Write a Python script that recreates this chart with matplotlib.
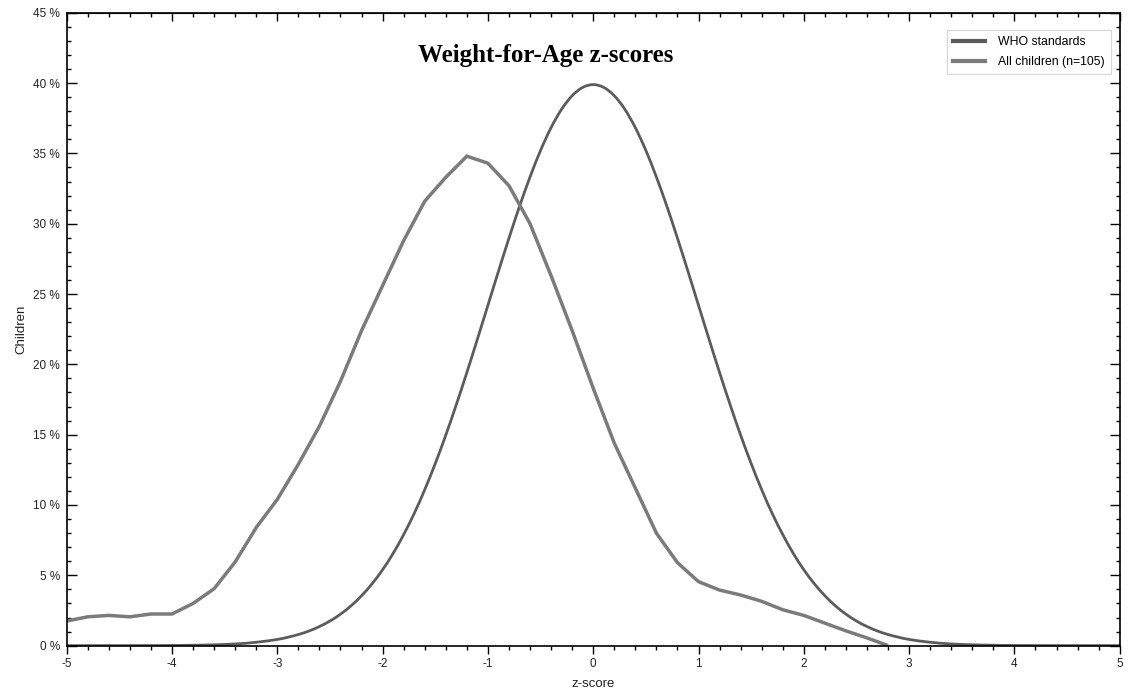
import matplotlib
matplotlib.use("Agg")
import matplotlib.pyplot as plt
from matplotlib.ticker import MultipleLocator, FuncFormatter
from matplotlib.path import Path
from matplotlib.patches import PathPatch
from matplotlib.lines import Line2D

# ---- data ----
who_z = [-5.0, -4.5, -4.0, -3.8, -3.6, -3.4, -3.2, -3.0, -2.9, -2.8, -2.7, -2.6, -2.5, -2.4,
         -2.3, -2.2, -2.1, -2.0, -1.9, -1.8, -1.7, -1.6, -1.5, -1.4, -1.3, -1.2, -1.1,
         -1.0, -0.9, -0.8, -0.7, -0.6, -0.5, -0.4, -0.3, -0.2, -0.1, 0.0,
         0.1, 0.2, 0.3, 0.4, 0.5, 0.6, 0.7, 0.8, 0.9, 1.0, 1.1, 1.2, 1.3, 1.4, 1.5,
         1.6, 1.7, 1.8, 1.9, 2.0, 2.1, 2.2, 2.3, 2.4, 2.5, 2.6, 2.7, 2.8, 2.9, 3.0,
         3.2, 3.4, 3.6, 3.8, 4.0, 4.5, 5.0]
who_pct = [0.00, 0.00, 0.01, 0.03, 0.06, 0.12, 0.24, 0.44, 0.60, 0.79, 1.04, 1.36, 1.75, 2.24,
           2.83, 3.55, 4.40, 5.40, 6.56, 7.90, 9.40, 11.09, 12.95, 14.97, 17.14, 19.42, 21.79,
           24.20, 26.61, 28.97, 31.23, 33.32, 35.21, 36.83, 38.14, 39.10, 39.69, 39.89,
           39.69, 39.10, 38.14, 36.83, 35.21, 33.32, 31.23, 28.97, 26.61, 24.20, 21.79, 19.42, 17.14, 14.97, 12.95,
           11.09, 9.40, 7.90, 6.56, 5.40, 4.40, 3.55, 2.83, 2.24, 1.75, 1.36, 1.04, 0.79, 0.60, 0.44,
           0.24, 0.12, 0.06, 0.03, 0.01, 0.00, 0.00]

child_z = [-5.0, -4.8, -4.6, -4.4, -4.2, -4.0, -3.8, -3.6, -3.4, -3.2, -3.0, -2.8, -2.6, -2.4,
           -2.2, -2.0, -1.8, -1.6, -1.4, -1.2, -1.0, -0.8, -0.6, -0.4, -0.2, 0.0, 0.2, 0.4,
           0.6, 0.8, 1.0, 1.2, 1.4, 1.6, 1.8, 2.0, 2.2, 2.4, 2.6, 2.8]
child_pct = [1.75, 2.05, 2.15, 2.05, 2.25, 2.25, 3.0, 4.05, 5.95, 8.4, 10.4, 12.9, 15.6, 18.8,
             22.4, 25.6, 28.8, 31.6, 33.3, 34.8, 34.3, 32.7, 30.0, 26.3, 22.4, 18.3, 14.4, 11.2,
             8.0, 5.9, 4.55, 3.95, 3.6, 3.15, 2.55, 2.15, 1.6, 1.05, 0.55, 0.0]

series_labels = ["WHO standards", "All children (n=105)"]
title = "Weight-for-Age z-scores"

WHO_COLOR = "#5c5c5c"
CHILD_COLOR = "#7b7b7b"

# ---- figure ----
fig = plt.figure(figsize=(11.31, 6.92), dpi=100)
ax = fig.add_axes([0.059, 0.067, 0.931, 0.9146])


def smooth_path(xs, ys):
    """Catmull-Rom curve through the data points, as cubic Bezier segments."""
    n = len(xs)
    verts = [(xs[0], ys[0])]
    codes = [Path.MOVETO]
    for i in range(n - 1):
        x0, y0 = (xs[i - 1], ys[i - 1]) if i > 0 else (xs[i], ys[i])
        x1, y1 = xs[i], ys[i]
        x2, y2 = xs[i + 1], ys[i + 1]
        x3, y3 = (xs[i + 2], ys[i + 2]) if i + 2 < n else (x2, y2)
        c1 = (x1 + (x2 - x0) / 6.0, y1 + (y2 - y0) / 6.0)
        c2 = (x2 - (x3 - x1) / 6.0, y2 - (y3 - y1) / 6.0)
        verts += [c1, c2, (x2, y2)]
        codes += [Path.CURVE4] * 3
    return Path(verts, codes)


ax.add_patch(PathPatch(smooth_path(who_z, who_pct), facecolor="none",
                       edgecolor=WHO_COLOR, lw=2.0, capstyle="butt", joinstyle="round"))
ax.plot(child_z, child_pct, color=CHILD_COLOR, lw=2.5, solid_capstyle="butt",
        solid_joinstyle="miter")

ax.set_xlim(-5, 5)
ax.set_ylim(0, 45)
ax.xaxis.set_major_locator(MultipleLocator(1))
ax.xaxis.set_minor_locator(MultipleLocator(0.2))
ax.yaxis.set_major_locator(MultipleLocator(5))
ax.yaxis.set_minor_locator(MultipleLocator(1))
ax.yaxis.set_major_formatter(FuncFormatter(lambda v, p: f"{v:.0f} %"))
ax.xaxis.set_major_formatter(FuncFormatter(lambda v, p: f"{v:.0f}"))

ax.tick_params(axis="x", which="both", direction="out", bottom=True, top=False,
               labelsize=8.5, pad=3, colors="black")
ax.tick_params(axis="x", which="major", length=6, width=1)
ax.tick_params(axis="x", which="minor", length=3, width=1)
ax.tick_params(axis="y", which="both", direction="in", left=True, right=True,
               labelsize=8.5, pad=5)
ax.tick_params(axis="y", which="major", length=7, width=1)
ax.tick_params(axis="y", which="minor", length=3, width=1)
for lab in ax.get_xticklabels() + ax.get_yticklabels():
    lab.set_fontfamily(["Liberation Sans", "DejaVu Sans"])
    lab.set_color("#222222")

sec = ax.secondary_xaxis("top")
sec.xaxis.set_major_locator(MultipleLocator(1))
sec.xaxis.set_minor_locator(MultipleLocator(0.2))
sec.tick_params(axis="x", which="both", direction="in", labeltop=False)
sec.tick_params(axis="x", which="major", length=6, width=1)
sec.tick_params(axis="x", which="minor", length=3, width=1)

for s in ax.spines.values():
    s.set_linewidth(1.2)
    s.set_color("black")

ax.set_xlabel("z-score", fontsize=9.5, family=["Liberation Sans", "DejaVu Sans"], color="#222222", labelpad=6)
ax.set_ylabel("Children", fontsize=9.5, family=["Liberation Sans", "DejaVu Sans"], color="#222222", labelpad=4)

ax.text(0.455, 0.932, title, transform=ax.transAxes, ha="center", va="center",
        fontsize=18, fontweight="bold", family=["Liberation Serif", "DejaVu Serif"])

handles = [Line2D([], [], color=WHO_COLOR, lw=3.0), Line2D([], [], color=CHILD_COLOR, lw=3.0)]
leg = ax.legend(handles, series_labels, loc="upper right", bbox_to_anchor=(0.9915, 0.9725),
                prop={"family": ["Liberation Sans", "DejaVu Sans"], "size": 8.8},
                frameon=True, fancybox=False, handlelength=2.6, handletextpad=1.1,
                borderpad=0.5, labelspacing=0.65, borderaxespad=0)
leg.get_frame().set_edgecolor("#cccccc")
leg.get_frame().set_linewidth(0.8)

fig.savefig("out.png", dpi=100)
